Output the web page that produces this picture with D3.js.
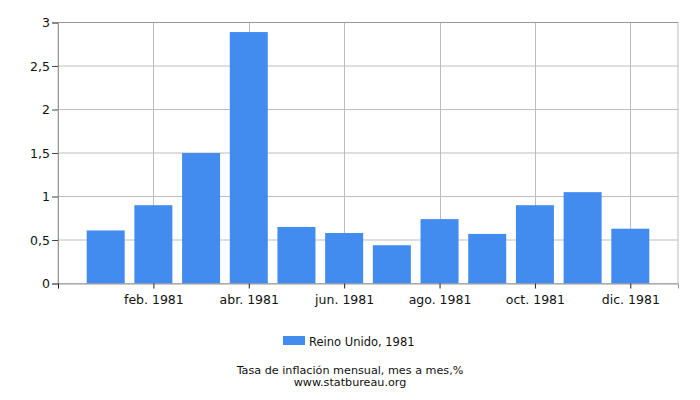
<!DOCTYPE html>
<html>
<head>
<meta charset="utf-8">
<script src="https://cdn.jsdelivr.net/npm/d3@7"></script>
<style>
  body { margin: 0; background: #fff; }
  text { font-family: "DejaVu Sans", Verdana, sans-serif; fill: #111; }
</style>
</head>
<body>
<div id="chart"></div>
<script>
// Monthly inflation, United Kingdom, 1981 (month index 0 = ene. 1981)
const monthIndex = [0, 1, 2, 3, 4, 5, 6, 7, 8, 9, 10, 11];
const values = [0.61, 0.90, 1.50, 2.89, 0.65, 0.58, 0.44, 0.74, 0.57, 0.90, 1.05, 0.63];
const monthNames = ["ene.", "feb.", "mar.", "abr.", "may.", "jun.",
                    "jul.", "ago.", "sep.", "oct.", "nov.", "dic."];
const year = 1981;
const xTickIndex = [1, 3, 5, 7, 9, 11];
const yTicks = [0, 0.5, 1, 1.5, 2, 2.5, 3];
const seriesName = "Reino Unido, 1981";
const title = "Tasa de inflación mensual, mes a mes,%";
const source = "www.statbureau.org";

const data = monthIndex.map((m, i) => ({ month: m, value: values[i] }));

const width = 700, height = 400;
const margin = { top: 22.5, right: 22, bottom: 116.5, left: 58 };

const svg = d3.select("#chart").append("svg")
    .attr("width", width)
    .attr("height", height);

// x runs from dic. 1980 (-1) to ene. 1982 (12)
const x = d3.scaleLinear()
    .domain([-1, 12])
    .range([margin.left, width - margin.right]);

const y = d3.scaleLinear()
    .domain([0, 3])
    .range([height - margin.bottom, margin.top]);

// Grid
svg.append("g")
    .selectAll("line")
    .data(yTicks)
    .enter().append("line")
    .attr("x1", margin.left)
    .attr("x2", width - margin.right)
    .attr("y1", d => y(d))
    .attr("y2", d => y(d))
    .attr("stroke", "#bdbdbd")
    .attr("stroke-width", 1);

svg.append("g")
    .selectAll("line")
    .data(xTickIndex)
    .enter().append("line")
    .attr("x1", d => Math.round(x(d)) + 0.5)
    .attr("x2", d => Math.round(x(d)) + 0.5)
    .attr("y1", margin.top)
    .attr("y2", height - margin.bottom)
    .attr("stroke", "#bdbdbd")
    .attr("stroke-width", 1);

// Plot frame
svg.append("rect")
    .attr("x", margin.left)
    .attr("y", margin.top)
    .attr("width", width - margin.left - margin.right)
    .attr("height", height - margin.top - margin.bottom)
    .attr("fill", "none")
    .attr("stroke", "#bdbdbd");

svg.append("line")
    .attr("x1", margin.left).attr("x2", width - margin.right)
    .attr("y1", margin.top).attr("y2", margin.top)
    .attr("stroke", "#999");

// Bars
const barWidth = 38;
svg.append("g")
    .selectAll("rect")
    .data(data)
    .enter().append("rect")
    .attr("x", d => x(d.month) - barWidth / 2)
    .attr("y", d => y(d.value))
    .attr("width", barWidth)
    .attr("height", d => y(0) - y(d.value))
    .attr("fill", "#428bef");

// Y axis
const yAxis = svg.append("g")
    .attr("transform", "translate(" + margin.left + ",0)")
    .call(d3.axisLeft(y)
        .tickValues(yTicks)
        .tickSize(6)
        .tickPadding(2)
        .tickFormat(d => String(d).replace(".", ",")));
yAxis.select(".domain").attr("stroke", "#999");
yAxis.selectAll(".tick line").attr("stroke", "#444");
yAxis.selectAll("text").attr("font-size", 12.5).attr("fill", "#111");

// X axis
const xAxis = svg.append("g")
    .attr("transform", "translate(0," + y(0) + ")")
    .call(d3.axisBottom(x)
        .tickValues([-1].concat(xTickIndex))
        .tickSize(5)
        .tickPadding(7)
        .tickFormat(d => d < 0 ? "" : monthNames[d] + " " + year));
xAxis.select(".domain").attr("stroke", "#999");
xAxis.selectAll(".tick line").attr("stroke", "#222");
xAxis.selectAll("text").attr("font-size", 12.5).attr("fill", "#111");

// Legend
const legend = svg.append("g").attr("transform", "translate(283,336)");
legend.append("rect")
    .attr("width", 22).attr("height", 9)
    .attr("fill", "#428bef");
legend.append("text")
    .attr("x", 26).attr("y", 9.5)
    .attr("font-size", 11.5)
    .text(seriesName);

// Title
svg.append("text")
    .attr("x", 350).attr("y", 374)
    .attr("text-anchor", "middle")
    .attr("font-size", 11.2)
    .text(title);
svg.append("text")
    .attr("x", 350).attr("y", 386)
    .attr("text-anchor", "middle")
    .attr("font-size", 11.2)
    .text(source);
</script>
</body>
</html>
